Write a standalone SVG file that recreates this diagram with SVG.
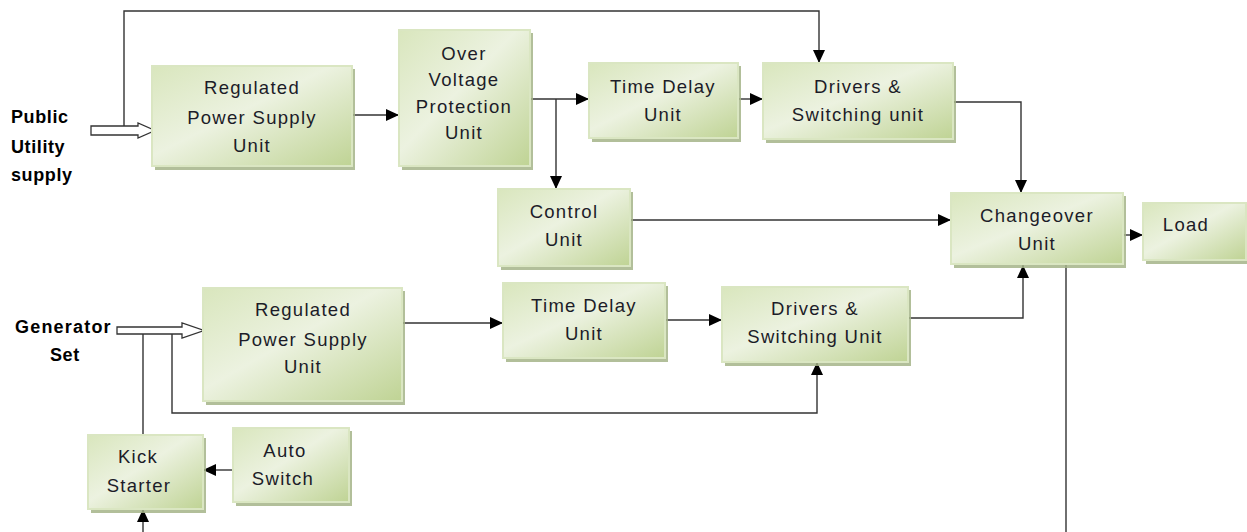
<svg xmlns="http://www.w3.org/2000/svg" width="1247" height="532" viewBox="0 0 1247 532">
<style>
.box{fill:url(#g);stroke:#dae6c2;stroke-width:2}
.sh{fill:#a4b488;opacity:0.85}
.t{font-family:"Liberation Sans",Arial,sans-serif;font-size:18.5px;letter-spacing:1.3px;fill:#1c1c28;text-anchor:middle}
.lb{font-family:"Liberation Sans",Arial,sans-serif;font-size:18px;font-weight:bold;letter-spacing:0.6px;fill:#000}
.c{fill:none;stroke:#333;stroke-width:1.4}
.ha{fill:#fff;stroke:#333;stroke-width:1.3}
</style>
<defs>
<linearGradient id="g" x1="0" y1="0" x2="1" y2="1">
<stop offset="0" stop-color="#d9e6bd"/>
<stop offset="0.45" stop-color="#ecf2e0"/>
<stop offset="1" stop-color="#bfd394"/>
</linearGradient>
<marker id="a" markerWidth="14" markerHeight="14" refX="13" refY="7" orient="auto" markerUnits="userSpaceOnUse">
<path d="M0,1 L13,7 L0,13 Z" fill="#000"/>
</marker>
</defs>
<rect width="1247" height="532" fill="#fff"/>

<g id="connectors">
<path class="c" d="M124,130 V11 H819 V63" marker-end="url(#a)"/>
<path class="c" d="M352,115 H399" marker-end="url(#a)"/>
<path class="c" d="M530,99 H589" marker-end="url(#a)"/>
<path class="c" d="M556,99 V189" marker-end="url(#a)"/>
<path class="c" d="M738,99 H763" marker-end="url(#a)"/>
<path class="c" d="M953,102 H1021 V193" marker-end="url(#a)"/>
<path class="c" d="M630,220 H951" marker-end="url(#a)"/>
<path class="c" d="M1123,235 H1143" marker-end="url(#a)"/>
<path class="c" d="M1066,264 V532"/>
<path class="c" d="M908,318 H1023 V265" marker-end="url(#a)"/>
<path class="c" d="M402,323 H503" marker-end="url(#a)"/>
<path class="c" d="M665,320 H722" marker-end="url(#a)"/>
<path class="c" d="M172,331 V413 H817 V362" marker-end="url(#a)"/>
<path class="c" d="M143,435 V333"/>
<path class="c" d="M233,470 H203" marker-end="url(#a)"/>
<path class="c" d="M143,532 V509" marker-end="url(#a)"/>
<path class="ha" d="M91,126 H138 V123 L155,130.5 L138,138 V135 H91 Z"/>
<path class="ha" d="M117,327 H182 V323 L204,330.5 L182,338 V334 H117 Z"/>
</g>

<g id="public-label">
<text class="lb" x="11" y="123">Public</text>
<text class="lb" x="11" y="153">Utility</text>
<text class="lb" x="11" y="181">supply</text>
</g>
<g id="generator-label">
<text class="lb" x="15" y="333" style="letter-spacing:1.2px">Generator</text>
<text class="lb" x="50" y="361">Set</text>
</g>

<g id="rps-top">
<rect class="sh" x="155" y="69" width="200" height="101"/>
<rect class="box" x="152" y="66" width="200" height="100"/>
<text class="t" x="252" y="94">Regulated</text>
<text class="t" x="252" y="124">Power Supply</text>
<text class="t" x="252" y="152">Unit</text>
</g>

<g id="ovp">
<rect class="sh" x="402" y="33" width="131" height="137"/>
<rect class="box" x="399" y="30" width="131" height="136"/>
<text class="t" x="464" y="60">Over</text>
<text class="t" x="464" y="86">Voltage</text>
<text class="t" x="464" y="113">Protection</text>
<text class="t" x="464" y="139">Unit</text>
</g>

<g id="tdu-top">
<rect class="sh" x="592" y="66" width="149" height="76"/>
<rect class="box" x="589" y="63" width="149" height="75"/>
<text class="t" x="663" y="93">Time Delay</text>
<text class="t" x="663" y="121">Unit</text>
</g>

<g id="drivers-top">
<rect class="sh" x="766" y="66" width="190" height="77"/>
<rect class="box" x="763" y="63" width="190" height="76"/>
<text class="t" x="858" y="93">Drivers &amp;</text>
<text class="t" x="858" y="121">Switching unit</text>
</g>

<g id="control">
<rect class="sh" x="501" y="192" width="132" height="78"/>
<rect class="box" x="498" y="189" width="132" height="77"/>
<text class="t" x="564" y="218">Control</text>
<text class="t" x="564" y="246">Unit</text>
</g>

<g id="changeover">
<rect class="sh" x="954" y="196" width="172" height="72"/>
<rect class="box" x="951" y="193" width="172" height="71"/>
<text class="t" x="1037" y="222">Changeover</text>
<text class="t" x="1037" y="250">Unit</text>
</g>

<g id="load">
<rect class="sh" x="1146" y="206" width="104" height="58"/>
<rect class="box" x="1143" y="203" width="103" height="57"/>
<text class="t" x="1186" y="231">Load</text>
</g>

<g id="rps-bottom">
<rect class="sh" x="206" y="291" width="199" height="114"/>
<rect class="box" x="203" y="288" width="199" height="113"/>
<text class="t" x="303" y="316">Regulated</text>
<text class="t" x="303" y="346">Power Supply</text>
<text class="t" x="303" y="373">Unit</text>
</g>

<g id="tdu-bottom">
<rect class="sh" x="506" y="286" width="162" height="76"/>
<rect class="box" x="503" y="283" width="162" height="75"/>
<text class="t" x="584" y="312">Time Delay</text>
<text class="t" x="584" y="340">Unit</text>
</g>

<g id="drivers-bottom">
<rect class="sh" x="725" y="290" width="186" height="76"/>
<rect class="box" x="722" y="287" width="186" height="75"/>
<text class="t" x="815" y="315">Drivers &amp;</text>
<text class="t" x="815" y="343">Switching Unit</text>
</g>

<g id="kick-starter">
<rect class="sh" x="91" y="438" width="115" height="75"/>
<rect class="box" x="88" y="435" width="115" height="74"/>
<text class="t" x="138" y="463">Kick</text>
<text class="t" x="139" y="492">Starter</text>
</g>

<g id="auto-switch">
<rect class="sh" x="236" y="431" width="116" height="75"/>
<rect class="box" x="233" y="428" width="116" height="74"/>
<text class="t" x="285" y="457">Auto</text>
<text class="t" x="283" y="485">Switch</text>
</g>
</svg>
